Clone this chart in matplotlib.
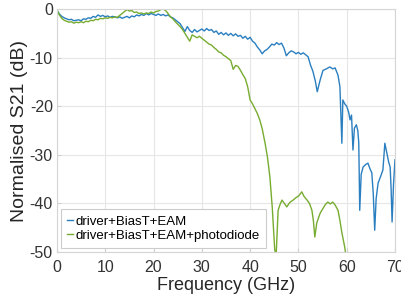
import matplotlib
matplotlib.use("Agg")
import matplotlib.pyplot as plt

plt.rcParams['font.family'] = ['Liberation Sans', 'DejaVu Sans']
plt.rcParams['axes.unicode_minus'] = False

# driver+BiasT+EAM (frequency GHz, normalised S21 dB)
blue_f = [0, 0.5, 1.0, 1.5, 2.0, 2.5, 3.0, 3.5, 4.0, 4.5, 5.0, 5.5, 6.0, 6.5, 7.0, 7.5, 8.0, 8.5, 9.0, 9.5,
          10, 10.5, 11, 11.5, 12, 12.5, 13, 13.5, 14, 14.5, 15, 15.5, 16, 16.5, 17, 17.5, 18, 18.5, 19, 19.5,
          20, 20.5, 21, 21.5, 22, 22.5, 23, 23.5, 24, 24.5, 25, 25.5, 26, 26.5, 27, 27.5, 28, 28.5, 29, 29.5,
          30, 30.5, 31, 31.5, 32, 32.5, 33, 33.5, 34, 34.5, 35, 35.5, 36, 36.5, 37, 37.5, 38, 38.5, 39, 39.5,
          40, 40.5, 41, 41.5, 42, 42.5, 43, 43.5, 44, 44.5, 45, 45.5, 46, 46.5, 47, 47.5, 48, 48.5, 49, 49.5,
          50, 50.5, 51, 51.5, 52, 52.5, 53, 53.5, 53.9, 54.5, 55.1, 55.8, 56.5, 57.1, 57.6, 58.2, 58.6, 59.0, 59.2,
          59.6, 60.0, 60.4, 60.7, 61.0, 61.3, 61.6, 62.0, 62.3, 62.5, 62.7, 63.0, 63.4, 63.9, 64.4, 64.8, 65.2, 65.5,
          65.8, 66.1, 66.5, 67.0, 67.5, 67.9, 68.3, 68.7, 69.0, 69.2, 69.4, 69.7, 70]
blue_db = [-0.2, -1.0, -1.5, -1.8, -2.0, -2.2, -2.1, -2.4, -2.3, -2.2, -2.4, -2.0, -2.1, -1.8, -1.9, -1.5, -1.7, -1.2, -1.5, -1.3,
           -1.6, -1.4, -1.7, -1.5, -1.6, -1.8, -1.6, -1.9, -1.7, -1.5, -1.8, -1.4, -1.6, -1.2, -1.4, -1.1, -1.3, -0.9, -1.2, -0.9,
           -1.1, -1.3, -1.0, -1.3, -1.1, -1.4, -1.2, -1.6, -1.8, -2.2, -2.6, -3.0, -3.8, -4.6, -3.6, -4.4, -4.8, -4.2, -4.7, -4.4,
           -4.1, -4.5, -4.0, -4.4, -4.2, -4.8, -4.5, -5.2, -4.8, -5.3, -4.9, -5.4, -5.0, -5.5, -5.1, -5.6, -5.4, -6.0, -5.6, -6.2,
           -5.8, -6.6, -7.0, -7.8, -8.4, -9.2, -8.6, -8.3, -7.8, -7.2, -7.4, -6.9, -7.3, -7.0, -8.0, -9.6, -9.0, -8.6, -8.8, -9.2,
           -8.9, -9.3, -9.0, -9.4, -9.8, -11.5, -12.8, -14.8, -17.0, -14.6, -12.6, -12.3, -11.9, -12.3, -12.1, -13.6, -16.0, -27.6, -18.7,
           -19.5, -20.0, -21.2, -22.8, -21.8, -29.0, -24.5, -23.8, -25.0, -27.5, -41.4, -34.0, -32.5, -32.0, -31.7, -32.8, -33.7, -38.0,
           -45.5, -39.0, -35.8, -34.5, -33.1, -27.6, -29.5, -31.5, -32.5, -37.0, -43.8, -36.0, -31.0]

# driver+BiasT+EAM+photodiode
green_f = [0, 0.5, 1, 1.5, 2, 2.5, 3, 3.5, 4, 4.5, 5, 5.5, 6, 6.5, 7, 7.5, 8, 8.5, 9, 9.5,
           10, 10.5, 11, 11.5, 12, 12.5, 13, 13.5, 14, 14.5, 15, 15.5, 16, 16.5, 17, 17.5, 18, 18.5, 19, 19.5,
           20, 20.5, 21, 21.5, 22, 22.5, 23, 23.5, 24, 24.5, 25, 25.5, 26, 26.5, 27, 27.5, 28, 28.5, 29, 29.5,
           30, 30.5, 31, 31.5, 32, 32.5, 33, 33.5, 34, 34.5, 35, 35.5, 36, 36.5, 37, 37.5, 38, 38.5, 39, 39.5,
           40, 40.5, 41, 41.5, 42, 42.5, 43.1, 43.6, 44.1, 44.6, 45.1, 45.4, 45.8, 46.2, 46.6, 47.1, 47.6, 48.2, 48.9, 49.5,
           50.1, 50.7, 51.2, 51.8, 52.3, 52.8, 53.1, 53.4, 53.8, 54.5, 55.1, 55.6, 56.1, 56.6, 57.1, 57.6,
           58.2, 58.6, 59.0, 59.3, 59.6, 59.8]
green_db = [-0.2, -1.2, -1.9, -2.3, -2.5, -2.7, -2.6, -2.9, -2.7, -2.8, -2.6, -2.8, -2.5, -2.6, -2.3, -2.4, -2.1, -2.2, -1.9, -2.0,
            -1.8, -1.9, -1.7, -1.8, -1.6, -1.7, -1.3, -0.9, -0.5, -0.1, -0.4, -0.3, -0.7, -0.6, -0.9, -0.8, -1.0, -0.8, -0.9, -0.6,
            -0.8, -0.5, -0.4, -0.1, 0.0, -0.3, -0.9, -1.6, -2.0, -2.6, -3.1, -3.6, -4.2, -5.0, -5.8, -6.6, -5.3, -5.6, -5.9, -5.6,
            -6.0, -6.4, -6.8, -7.2, -7.4, -7.9, -8.3, -8.8, -9.0, -9.5, -9.8, -10.2, -10.6, -12.4, -11.6, -11.8, -12.6, -13.5, -14.3, -16.0,
            -18.7, -19.5, -20.5, -21.5, -22.8, -24.6, -27.6, -30.5, -34.6, -41.0, -49.6, -50.5, -41.4, -40.2, -39.3, -40.0, -40.7, -39.8, -39.3, -38.8,
            -38.4, -37.6, -38.6, -39.3, -40.0, -41.4, -43.5, -46.9, -44.0, -42.0, -41.0, -40.2, -39.7, -40.1, -39.7, -40.3,
            -41.4, -43.5, -46.0, -47.5, -49.0, -50.5]

labels = ["driver+BiasT+EAM", "driver+BiasT+EAM+photodiode"]

fig = plt.figure(figsize=(4.01, 3.03), dpi=100)
ax = fig.add_axes([0.142, 0.168, 0.843, 0.802])

ax.plot(blue_f, blue_db, color="#2a7fc0", lw=1.0, label=labels[0])
ax.plot(green_f, green_db, color="#77ac30", lw=1.0, label=labels[1])

ax.set_xlim(0, 70)
ax.set_ylim(-50, 0)
ax.set_xticks(range(0, 71, 10))
ax.set_yticks(range(-50, 1, 10))
ax.grid(True, color="#e6e6e6", lw=0.8)
ax.tick_params(direction="in", length=3, labelsize=11.5, colors="#d0d0d0", labelcolor="#333333")
ax.tick_params(axis="x", pad=5.5)
ax.tick_params(axis="y", pad=3)
for s in ax.spines.values():
    s.set_color("#d5d5d5")

ax.set_xlabel("Frequency (GHz)", fontsize=13, color="#262626")
ax.set_ylabel("Normalised S21 (dB)", fontsize=14, color="#262626")
ax.xaxis.set_label_coords(0.5, -0.103)
ax.yaxis.set_label_coords(-0.085, 0.5)

leg = ax.legend(loc="lower left", fontsize=9.5, handlelength=0.4, handletextpad=0.2,
                borderaxespad=0.3, borderpad=0.5, labelspacing=0.1, fancybox=False, framealpha=1)
leg.get_frame().set_edgecolor("#cccccc")
leg.get_frame().set_linewidth(0.8)

fig.savefig("out.png", dpi=100)
